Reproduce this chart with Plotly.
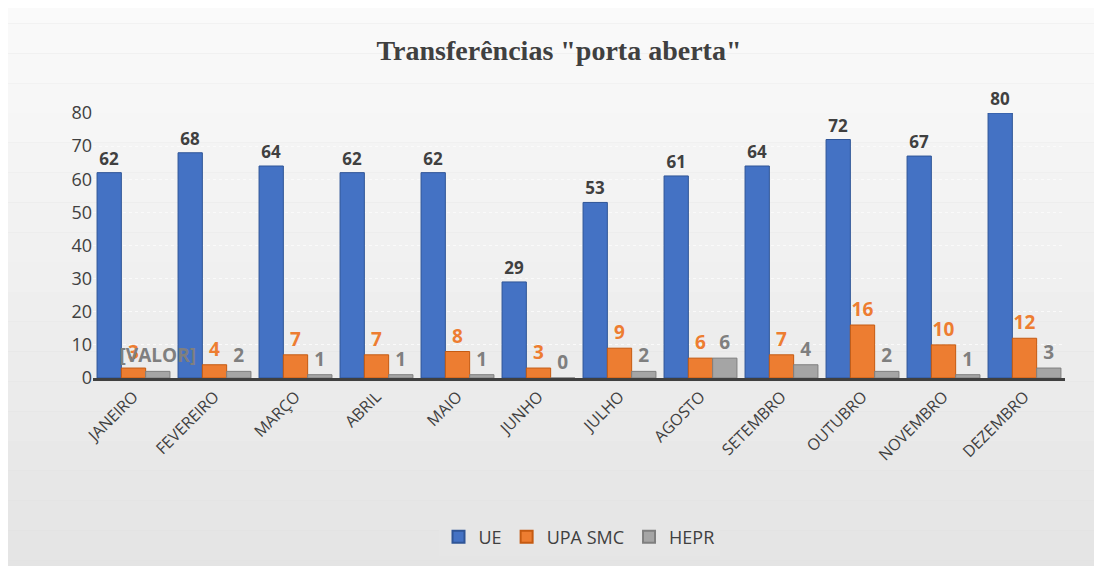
import plotly.graph_objects as go

months = ['JANEIRO', 'FEVEREIRO', 'MARÇO', 'ABRIL', 'MAIO', 'JUNHO',
          'JULHO', 'AGOSTO', 'SETEMBRO', 'OUTUBRO', 'NOVEMBRO', 'DEZEMBRO']
ue = [62, 68, 64, 62, 62, 29, 53, 61, 64, 72, 67, 80]
upa = [3, 4, 7, 7, 8, 3, 9, 6, 7, 16, 10, 12]
hepr = [2, 2, 1, 1, 1, 0, 2, 6, 4, 2, 1, 3]
hepr_text = ['[VALOR]'] + [str(v) for v in hepr[1:]]

font_main = 'Open Sans'

fig = go.Figure()

fig.add_trace(go.Bar(
    x=months, y=ue, name='UE',
    marker=dict(color='#4472C4', line=dict(color='#2F5597', width=1)),
    text=[str(v) for v in ue], textposition='outside',
    textfont=dict(family=font_main, size=17, color='#404040', weight='bold'),
    cliponaxis=False,
))
fig.add_trace(go.Bar(
    x=months, y=upa, name='UPA SMC',
    marker=dict(color='#ED7D31', line=dict(color='#C55A11', width=1)),
    text=[str(v) for v in upa], textposition='outside',
    textfont=dict(family=font_main, size=19, color='#ED7D31', weight='bold'),
    cliponaxis=False,
))
fig.add_trace(go.Bar(
    x=months, y=hepr, name='HEPR',
    marker=dict(color='#A5A5A5', line=dict(color='#7F7F7F', width=1)),
    text=hepr_text, textposition='outside',
    textfont=dict(family=font_main, size=19, color='#7F7F7F', weight='bold'),
    cliponaxis=False,
))

# fake the soft grey gradient of the chart area
bands = 20
top, bottom = 1.45, -0.8
step = (top - bottom) / bands
for i in range(bands):
    shade = 250 - int(i * 24 / bands)
    fig.add_shape(type='rect', xref='paper', yref='paper',
                  x0=-0.12, x1=1.06, y0=top - (i + 1) * step, y1=top - i * step,
                  fillcolor='rgb({0},{0},{0})'.format(shade), line=dict(width=0),
                  layer='below')

fig.update_layout(
    width=1102, height=566,
    title=dict(text='Transferências "porta aberta"', x=0.5, y=0.925,
               xanchor='center', yanchor='middle',
               font=dict(family='Liberation Serif', size=28, color='#404040', weight='bold')),
    barmode='group', bargap=0.1, bargroupgap=0.0,
    uniformtext=dict(mode=False),
    paper_bgcolor='#dcdcdc', plot_bgcolor='rgba(0,0,0,0)',
    margin=dict(l=85, r=45, t=105, b=196),
    xaxis=dict(tickangle=-45, tickfont=dict(family=font_main, size=16, color='#404040'),
               showline=True, linecolor='#404040', linewidth=3, showgrid=False),
    yaxis=dict(range=[0, 80], dtick=10, tickfont=dict(family=font_main, size=18, color='#404040'),
               gridcolor='#fafafa', griddash='dot', zeroline=False, showline=False),
    legend=dict(orientation='h', x=0.5, xanchor='center', y=-0.6, yanchor='middle',
                bgcolor='#e6e6e6', font=dict(family=font_main, size=18, color='#404040'),
                itemsizing='constant'),
)
fig.update_traces(constraintext='none')

fig.write_html('out.html')
